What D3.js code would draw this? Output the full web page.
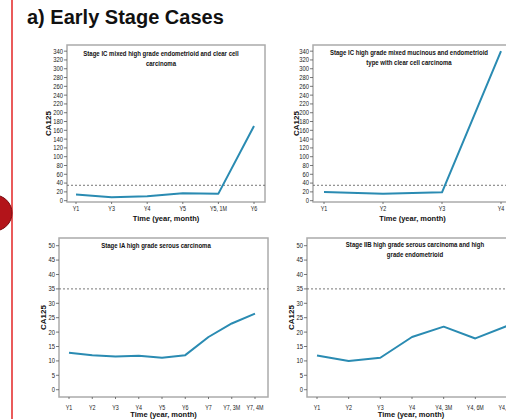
<!DOCTYPE html>
<html>
<head>
<meta charset="utf-8">
<script src="https://cdn.jsdelivr.net/npm/d3@7"></script>
<style>
  body { margin: 0; background: #fff; }
  svg { display: block; }
</style>
</head>
<body>
<svg id="graf" width="506" height="419"></svg>
<script>
// datos
let cats1 = ['Y1', 'Y3', 'Y4', 'Y5', 'Y5, 1M', 'Y6']
let vals1 = [14, 8, 10, 17, 16, 170]
let cats2 = ['Y1', 'Y2', 'Y3', 'Y4']
let vals2 = [20, 16, 19, 340]
let cats3 = ['Y1', 'Y2', 'Y3', 'Y4', 'Y5', 'Y6', 'Y7', 'Y7, 3M', 'Y7, 4M']
let vals3 = [12.8, 12.0, 11.5, 11.8, 11.1, 12.0, 18.3, 23.0, 26.4]
let cats4 = ['Y1', 'Y2', 'Y3', 'Y4', 'Y4, 3M', 'Y4, 6M', 'Y4, 9M']
let vals4 = [11.9, 10.0, 11.1, 18.3, 21.9, 17.8, 22.1]

let ticksTop = [0, 20, 40, 60, 80, 100, 120, 140, 160, 180, 200, 220, 240, 260, 280, 300, 320, 340]
let ticksBottom = [0, 5, 10, 15, 20, 25, 30, 35, 40, 45, 50]
let umbral = 35

let titulos = [
  ['Stage IC mixed high grade endometrioid and clear cell', 'carcinoma'],
  ['Stage IC high grade mixed mucinous and endometrioid', 'type with clear cell carcinoma'],
  ['Stage IA high grade serous carcinoma'],
  ['Stage IIB high grade serous carcinoma and high', 'grade endometrioid']
]

let svg = d3.select('#graf')
let sans = '"Liberation Sans", Arial, sans-serif'
let angosto = 0.84   // no hay fuente condensada, se comprime en x

// texto comprimido horizontalmente
function textoAngosto(sel, x, y) {
  return sel.attr('transform', function(d, i) {
    let xx = typeof x === 'function' ? x(d, i) : x
    let yy = typeof y === 'function' ? y(d, i) : y
    return 'translate(' + xx + ',' + yy + ') scale(' + angosto + ',1)'
  })
}

// barra lateral de la diapositiva
svg.append('line')
  .attr('x1', 12).attr('x2', 12).attr('y1', 0).attr('y2', 419)
  .style('stroke', '#e32525').style('stroke-width', 1.5)
svg.append('circle')
  .attr('cx', -6).attr('cy', 213).attr('r', 18)
  .style('fill', '#b3141a').style('stroke', '#7a0c10').style('stroke-width', 1)

svg.append('text')
  .text('a) Early Stage Cases')
  .attr('x', 27).attr('y', 24)
  .style('font-family', sans).style('font-weight', 'bold').style('font-size', '20px')
  .style('fill', '#111')

let paneles = [
  { cats: cats1, vals: vals1, ticks: ticksTop, dom: [-3, 354], titulo: titulos[0],
    left: 67, right: 265, top: 45, bottom: 202, x0: 76, x1: 254,
    tx: 161, ty: 55.5, yt: 18.5, xl: 8.5, xt: 19 },
  { cats: cats2, vals: vals2, ticks: ticksTop, dom: [-3, 354], titulo: titulos[1],
    left: 313, right: 512, top: 45, bottom: 202, x0: 324, x1: 501,
    tx: 409, ty: 55, yt: 16.5, xl: 8.5, xt: 19 },
  { cats: cats3, vals: vals3, ticks: ticksBottom, dom: [-2.53, 52.67], titulo: titulos[2],
    left: 59, right: 268, top: 238, bottom: 397, x0: 69, x1: 255,
    tx: 156, ty: 247.5, yt: 16, xl: 12.5, xt: 20 },
  { cats: cats4, vals: vals4, ticks: ticksBottom, dom: [-2.53, 52.67], titulo: titulos[3],
    left: 307, right: 515, top: 238, bottom: 397, x0: 317, x1: 507,
    tx: 415, ty: 246.5, yt: 15.5, xl: 12.5, xt: 20 }
]

paneles.forEach(function(p) {
  let x = d3.scalePoint().domain(p.cats).range([p.x0, p.x1])
  let y = d3.scaleLinear().domain(p.dom).range([p.bottom, p.top])
  let g = svg.append('g')

  // marco
  g.append('rect')
    .attr('x', p.left).attr('y', p.top)
    .attr('width', p.right - p.left).attr('height', p.bottom - p.top)
    .style('fill', 'none').style('stroke', '#ababab').style('stroke-width', 1.5)

  // eje y
  let ty = g.selectAll('.ty').data(p.ticks).enter().append('g')
  ty.append('line')
    .attr('x1', p.left - 3).attr('x2', p.left)
    .attr('y1', d => y(d)).attr('y2', d => y(d))
    .style('stroke', '#555').style('stroke-width', 0.8)
  textoAngosto(ty.append('text'), p.left - 4, d => y(d) + 2.4)
    .text(d => d)
    .attr('text-anchor', 'end')
    .style('font-family', sans).style('font-size', '7px').style('fill', '#222')

  // eje x
  let tx = g.selectAll('.tx').data(p.cats).enter().append('g')
  tx.append('line')
    .attr('x1', d => x(d)).attr('x2', d => x(d))
    .attr('y1', p.bottom).attr('y2', p.bottom + 2)
    .style('stroke', '#555').style('stroke-width', 0.8)
  textoAngosto(tx.append('text'), d => x(d), p.bottom + p.xl)
    .text(d => d)
    .attr('text-anchor', 'middle')
    .style('font-family', sans).style('font-size', '6.4px').style('fill', '#222')

  // linea de referencia
  g.append('line')
    .attr('x1', p.left).attr('x2', p.right)
    .attr('y1', y(umbral)).attr('y2', y(umbral))
    .style('stroke', '#666').style('stroke-width', 0.9)
    .style('stroke-dasharray', '2,2')

  // serie
  let linea = d3.line()
    .x((d, i) => x(p.cats[i]))
    .y(d => y(d))
  g.append('path')
    .attr('d', linea(p.vals))
    .style('fill', 'none').style('stroke', '#2a8bb2').style('stroke-width', 2)
    .style('stroke-linejoin', 'round')

  // titulos de ejes
  g.append('text')
    .text('CA125')
    .attr('transform', 'translate(' + (p.left - p.yt + 2.8) + ',' + ((p.top + p.bottom) / 2) + ') rotate(-90)')
    .attr('text-anchor', 'middle')
    .style('font-family', sans).style('font-weight', 'bold').style('font-size', '8px').style('fill', '#111')
  g.append('text')
    .text('Time (year, month)')
    .attr('x', (p.left + p.right) / 2).attr('y', p.bottom + p.xt)
    .attr('text-anchor', 'middle')
    .style('font-family', sans).style('font-weight', 'bold').style('font-size', '7.5px').style('fill', '#111')

  // titulo del panel
  textoAngosto(g.selectAll('.tt').data(p.titulo).enter().append('text'), p.tx, (d, i) => p.ty + i * 10)
    .text(d => d)
    .attr('text-anchor', 'middle')
    .style('font-family', sans).style('font-weight', 'bold').style('font-size', '7.2px').style('fill', '#111')
})
</script>
</body>
</html>
